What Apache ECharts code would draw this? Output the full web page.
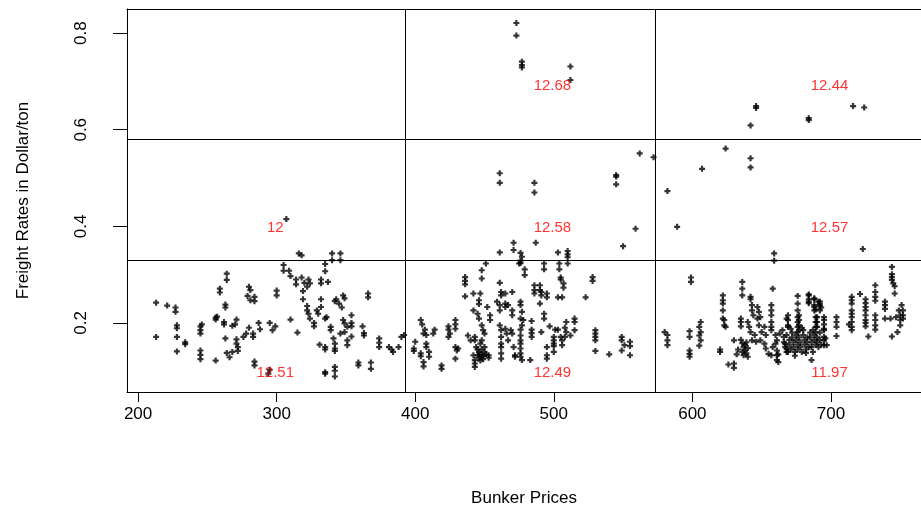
<!DOCTYPE html>
<html>
<head>
<meta charset="utf-8">
<script src="https://cdn.jsdelivr.net/npm/echarts@6/dist/echarts.min.js"></script>
<style>
  html, body { margin: 0; padding: 0; background: #fff; }
  #chart { width: 921px; height: 512px; }
</style>
</head>
<body>
<div id="chart"></div>
<script>
// bunker price / freight rate pairs, grouped by price band
var leftPts = [
  [213,0.242],[213,0.171],[221,0.236],[227,0.232],[227,0.223],[228,0.195],[228,0.189],[228,0.171],[228,0.141],
  [234,0.160],[234,0.156],[245,0.193],[245,0.185],[245,0.178],[246,0.197],[245,0.143],[245,0.134],[245,0.125],
  [256,0.207],[256,0.211],[257,0.213],[256,0.122],[259,0.271],[259,0.263],[263,0.238],[263,0.232],[262,0.202],[262,0.197],[263,0.168],
  [264,0.302],[264,0.289],[264,0.138],[266,0.129],[268,0.140],[268,0.194],[270,0.197],[271,0.207],
  [271,0.166],[271,0.157],[272,0.150],[272,0.142],[276,0.171],[278,0.178],
  [280,0.275],[281,0.268],[279,0.256],[281,0.247],[284,0.254],[284,0.245],
  [280,0.190],[283,0.178],[283,0.171],[287,0.200],[288,0.187],[284,0.120],[284,0.112],
  [295,0.200],[297,0.185],[299,0.193],[295,0.103],[294,0.095],[300,0.267],[300,0.257],
  [307,0.415],[305,0.320],[305,0.308],[309,0.308],[310,0.297],[310,0.207],[315,0.180],
  [316,0.344],[318,0.340],[314,0.290],[314,0.280],[318,0.294],
  [319,0.266],[319,0.249],[320,0.283],[322,0.275],[323,0.290],[324,0.282],
  [322,0.235],[322,0.226],[323,0.219],[324,0.209],[327,0.200],[327,0.193],[331,0.155],
  [329,0.226],[330,0.219],[332,0.233],[332,0.249],[332,0.282],[332,0.290],[335,0.322],[335,0.307],[337,0.285],
  [340,0.344],[340,0.330],[346,0.344],[346,0.330],
  [335,0.209],[336,0.212],[339,0.192],[339,0.185],[341,0.168],[342,0.157],
  [335,0.150],[335,0.145],[342,0.147],[342,0.142],
  [335,0.098],[335,0.095],[342,0.109],[342,0.101],[342,0.089],
  [343,0.249],[342,0.245],[345,0.240],[347,0.232],[348,0.257],[349,0.251],
  [348,0.206],[349,0.199],[351,0.192],[354,0.216],[354,0.200],[354,0.193],
  [346,0.178],[349,0.181],[351,0.164],[351,0.154],[354,0.172],
  [359,0.118],[359,0.112],[368,0.118],[368,0.105],
  [362,0.193],[363,0.179],[363,0.174],[366,0.261],[366,0.253],
  [374,0.168],[374,0.159],[374,0.150],[381,0.150],[383,0.145],[384,0.140],[388,0.150],[390,0.171],[392,0.175]
];

var midPts = [
  [473,0.821],[473,0.795],[477,0.741],[477,0.734],[477,0.729],[512,0.731],[512,0.703],
  [461,0.510],[461,0.490],[486,0.490],[486,0.470],[545,0.506],[545,0.503],[545,0.487],[562,0.551],[572,0.543],
  [559,0.395],[550,0.359],[487,0.366],[471,0.366],[471,0.351],[461,0.346],[503,0.346],[510,0.349],[510,0.342],
  [476,0.345],[477,0.337],[476,0.329],[475,0.323],[476,0.324],[479,0.311],[479,0.299],
  [510,0.336],[510,0.323],[504,0.323],[504,0.311],[493,0.323],[493,0.311],
  [451,0.323],[448,0.309],[448,0.292],[436,0.295],[436,0.287],[436,0.280],
  [436,0.255],[442,0.261],[447,0.261],[446,0.247],[446,0.239],
  [442,0.226],[445,0.219],[446,0.209],[452,0.233],[454,0.216],[454,0.206],
  [461,0.283],[462,0.264],[462,0.257],[465,0.261],[470,0.264],
  [459,0.244],[461,0.237],[465,0.240],[465,0.233],[461,0.226],[467,0.237],[470,0.226],[470,0.216],
  [476,0.244],[476,0.237],[477,0.223],[476,0.209],[478,0.206],[477,0.195],[476,0.186],
  [461,0.195],[462,0.185],[465,0.188],[466,0.178],[462,0.171],[467,0.164],
  [469,0.185],[470,0.178],[471,0.150],[472,0.133],[472,0.130],[476,0.174],[476,0.164],[476,0.157],[476,0.137],[476,0.130],[477,0.123],[476,0.147],
  [462,0.157],[462,0.150],[462,0.137],[462,0.126],
  [444,0.150],[445,0.145],[446,0.140],[447,0.135],[448,0.130],[449,0.125],[450,0.140],[451,0.135],[446,0.128],[448,0.145],[450,0.150],[447,0.122],[449,0.132],[445,0.133],
  [448,0.195],[449,0.185],[450,0.178],[448,0.164],[447,0.157],
  [438,0.174],[440,0.164],[443,0.171],[443,0.164],
  [442,0.133],[443,0.123],[443,0.116],[443,0.109],[453,0.133],[453,0.128],
  [429,0.150],[431,0.147],[430,0.143],[429,0.126],
  [424,0.193],[424,0.186],[424,0.171],[429,0.206],[429,0.197],[429,0.188],[425,0.178],
  [419,0.112],[419,0.105],
  [404,0.206],[405,0.197],[407,0.186],[406,0.178],[408,0.175],[414,0.186],[413,0.178],
  [400,0.161],[399,0.147],[399,0.142],[404,0.137],[404,0.131],[406,0.119],[406,0.110],[408,0.157],[408,0.150],[410,0.140],[410,0.130],
  [484,0.204],[484,0.186],[484,0.179],[484,0.171],[483,0.123],
  [486,0.278],[486,0.268],[486,0.261],[490,0.278],[490,0.268],[491,0.264],[491,0.257],[495,0.261],[495,0.253],
  [490,0.240],[493,0.219],[493,0.209],[491,0.181],[497,0.193],[501,0.186],[503,0.186],
  [500,0.171],[500,0.164],[500,0.157],[500,0.152],[500,0.140],[495,0.150],[495,0.133],[495,0.126],
  [505,0.294],[505,0.290],[507,0.282],[507,0.273],[503,0.253],[506,0.253],[528,0.295],[528,0.287],[523,0.253],
  [505,0.171],[506,0.164],[506,0.154],[508,0.190],[509,0.181],[508,0.171],[512,0.174],[515,0.209],[515,0.202],[515,0.185],[509,0.202],
  [530,0.185],[530,0.178],[530,0.171],[530,0.164],[530,0.142],[540,0.135],
  [549,0.171],[549,0.164],[551,0.154],[549,0.143],[555,0.161],[555,0.152],[555,0.133]
];

var rightPts = [
  [646,0.649],[646,0.645],[642,0.609],[684,0.624],[684,0.620],[716,0.649],[724,0.646],[624,0.561],[642,0.541],[642,0.522],
  [607,0.519],[582,0.473],[589,0.399],[659,0.344],[659,0.329],[723,0.353],[599,0.294],[599,0.285],
  [580,0.181],[582,0.175],[582,0.164],[582,0.154],[598,0.183],[598,0.171],[598,0.143],[598,0.136],[598,0.130],
  [606,0.202],[605,0.192],[606,0.181],[605,0.174],[606,0.164],[605,0.153],
  [620,0.145],[620,0.140],
  [622,0.257],[622,0.247],[622,0.240],[622,0.226],[622,0.209],[623,0.206],[623,0.195],[624,0.192],
  [626,0.114],[630,0.116],[630,0.107],[630,0.164],[633,0.145],[632,0.135],
  [635,0.209],[635,0.202],[635,0.193],[636,0.285],[636,0.271],[636,0.257],
  [635,0.165],[636,0.158],[637,0.150],[638,0.143],[639,0.137],[640,0.130],[636,0.140],[638,0.155],[640,0.148],[637,0.133],[639,0.160],
  [642,0.254],[642,0.249],[643,0.237],[643,0.226],[644,0.216],[640,0.202],[641,0.192],[642,0.181],
  [647,0.233],[648,0.223],[647,0.209],[648,0.195],[649,0.212],[643,0.164],[646,0.161],[645,0.175],
  [658,0.271],[657,0.237],[657,0.226],[657,0.216],[657,0.202],[657,0.192],[657,0.185],
  [652,0.192],[650,0.181],[653,0.175],[649,0.164],[652,0.157],[653,0.147],[655,0.136],[657,0.133],
  [661,0.133],[661,0.123],[660,0.175],[661,0.164],[658,0.150],[661,0.143],[660,0.157],
  [663,0.178],[666,0.171],[668,0.209],[669,0.192],[667,0.157],[668,0.147],[669,0.140],
  [662,0.135],[662,0.119],
  [676,0.256],[676,0.240],[676,0.226],[684,0.259],[684,0.249],[684,0.244],
  [688,0.249],[688,0.233],[688,0.226],[692,0.244],[692,0.235],[692,0.226],
  [690,0.212],[690,0.202],[690,0.192],[696,0.168],[697,0.154],
  [695,0.212],[695,0.206],[695,0.197],[695,0.188],[695,0.171],[695,0.164],
  [704,0.212],[704,0.202],[704,0.192],[704,0.173],[686,0.123],
  [676,0.212],[676,0.202],[676,0.192],[676,0.181],[669,0.216],[669,0.206],[669,0.195],
  [677,0.216],[677,0.206],[677,0.195],[677,0.185],
  [665,0.185],[666,0.160],[667,0.150],[668,0.175],[670,0.165],[670,0.155],[671,0.145],[672,0.180],[672,0.170],
  [673,0.160],[673,0.150],[674,0.140],[675,0.175],[675,0.165],[676,0.155],[676,0.145],[677,0.170],[678,0.160],
  [678,0.150],[679,0.140],[680,0.185],[680,0.175],[681,0.165],[681,0.155],[682,0.145],[683,0.170],[683,0.160],
  [684,0.150],[685,0.180],[685,0.170],[686,0.160],[686,0.150],[687,0.140],[688,0.175],[688,0.165],[689,0.155],
  [690,0.170],[690,0.160],[691,0.150],[692,0.180],[692,0.165],[693,0.155],[668,0.140],[671,0.188],[674,0.132],
  [679,0.190],[682,0.138],[687,0.185],
  [684,0.257],[684,0.241],[688,0.251],[688,0.237],[689,0.228],[691,0.244],[692,0.239],[693,0.232],
  [689,0.212],[689,0.202],[689,0.192],[689,0.181],[695,0.185],[695,0.154],
  [715,0.254],[715,0.247],[715,0.240],[721,0.260],[715,0.226],[715,0.219],[715,0.212],[715,0.202],[715,0.192],[715,0.185],[713,0.197],
  [725,0.249],[725,0.241],[725,0.233],[725,0.226],[725,0.216],[725,0.206],[725,0.200],[725,0.193],
  [732,0.216],[732,0.206],[732,0.195],[732,0.186],[727,0.172],
  [732,0.278],[732,0.264],[732,0.254],[732,0.246],
  [744,0.172],[748,0.181],
  [739,0.244],[739,0.237],[739,0.229],[739,0.209],
  [744,0.316],[744,0.301],[744,0.295],[744,0.289],[745,0.282],[746,0.276],[746,0.261],
  [743,0.209],[747,0.212],[749,0.226],[750,0.216],[750,0.206],[751,0.237],[752,0.226],[752,0.216],[752,0.209],[750,0.195]
];

// split lines and the red numbers written in each cell
var xBreaks = [393, 573];
var yBreaks = [0.3335, 0.5775];
var cellX = [299, 299, 499, 499, 499, 699, 699, 699];
var cellY = [0.097, 0.396, 0.691, 0.396, 0.097, 0.691, 0.396, 0.097];
var cellText = ["12.51", "12", "12.68", "12.58", "12.49", "12.44", "12.57", "11.97"];

var xTicks = [200, 300, 400, 500, 600, 700];
var yTicks = [0.2, 0.4, 0.6, 0.8];

var FONT = "'Liberation Sans', Arial, sans-serif";
var PLUS = "path://M0,1.6H5V3.4H0Z M1.6,0H3.4V5H1.6Z";
var X_MIN = 192, X_MAX = 765;

var chart = echarts.init(document.getElementById("chart"), null, { renderer: "canvas" });

var markData = [];
xBreaks.forEach(function (v) { markData.push({ xAxis: v }); });
yBreaks.forEach(function (v) { markData.push({ yAxis: v }); });

var boxLine = { show: true, onZero: false, lineStyle: { color: "#000", width: 1 } };

var option = {
  animation: false,
  backgroundColor: "#fff",
  grid: { left: 127, top: 9, right: 0, bottom: 120, show: false },
  xAxis: [
    {
      type: "value",
      min: X_MIN, max: X_MAX,
      axisLine: boxLine,
      splitLine: { show: false },
      axisTick: { show: true, length: 10, customValues: xTicks, lineStyle: { color: "#000", width: 1 } },
      axisLabel: { customValues: xTicks, color: "#000", fontSize: 17, fontFamily: FONT, margin: 14 },
      name: "Bunker Prices",
      nameLocation: "middle",
      nameGap: 98,
      nameTextStyle: { color: "#000", fontSize: 17, fontFamily: FONT }
    },
    {
      // top edge of the plot box
      type: "value",
      position: "top",
      min: X_MIN, max: X_MAX,
      axisLine: boxLine,
      splitLine: { show: false },
      axisTick: { show: false },
      axisLabel: { show: false }
    }
  ],
  yAxis: {
    type: "value",
    min: 0.057, max: 0.85,
    axisLine: boxLine,
    splitLine: { show: false },
    axisTick: { show: true, length: 14, customValues: yTicks, lineStyle: { color: "#000", width: 1 } },
    axisLabel: { customValues: yTicks, rotate: 90, color: "#000", fontSize: 17, fontFamily: FONT, margin: 37 },
    name: "Freight Rates in Dollar/ton",
    nameLocation: "middle",
    nameGap: 95,
    nameTextStyle: { color: "#000", fontSize: 17, fontFamily: FONT }
  },
  series: [
    {
      type: "scatter",
      data: leftPts.concat(midPts, rightPts),
      symbol: PLUS,
      symbolSize: 6,
      itemStyle: { color: "#000" },
      emphasis: { disabled: true },
      silent: true,
      markLine: {
        silent: true,
        symbol: ["none", "none"],
        label: { show: false },
        lineStyle: { color: "#000", type: "solid", width: 1 },
        data: markData
      }
    },
    {
      type: "scatter",
      z: 5,
      data: cellX.map(function (x, i) { return { value: [x, cellY[i]], name: cellText[i] }; }),
      symbolSize: 1,
      itemStyle: { color: "rgba(0,0,0,0)" },
      silent: true,
      label: {
        show: true,
        position: "inside",
        formatter: "{b}",
        color: "#ff0000",
        fontSize: 15,
        fontFamily: FONT
      }
    }
  ]
};

chart.setOption(option);
</script>
</body>
</html>
